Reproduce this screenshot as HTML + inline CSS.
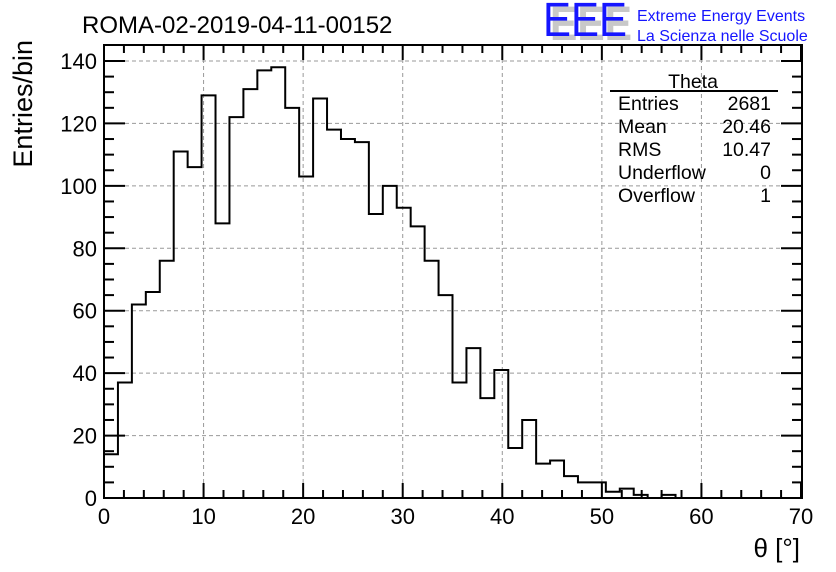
<!DOCTYPE html>
<html><head><meta charset="utf-8"><style>
body{margin:0;background:#fff;}
svg{display:block;font-family:"Liberation Sans",Arial,sans-serif;}
</style></head><body>
<svg id="chart" width="836" height="572" viewBox="0 0 836 572" xmlns="http://www.w3.org/2000/svg">
<rect x="0" y="0" width="836" height="572" fill="#fff"/>
<g id="grid"></g>
<g id="ticks"></g>
<path id="hist" fill="none" stroke="#000" stroke-width="2"/>
<rect x="104" y="45" width="698" height="453" fill="none" stroke="#000" stroke-width="2"/>
<g id="xlabels" font-size="22" text-anchor="middle"></g>
<g id="ylabels" font-size="22" text-anchor="end"></g>
<text x="82" y="33" font-size="24">ROMA-02-2019-04-11-00152</text>
<text x="32" y="40" font-size="27" transform="rotate(-90 32 40)" text-anchor="end">Entries/bin</text>
<text x="800" y="557" font-size="26" text-anchor="end">θ [°]</text>
<g>
<text x="550" y="40" font-size="48" fill="#c8c8c8" font-weight="bold" textLength="82" lengthAdjust="spacingAndGlyphs">EEE</text>
<text x="543" y="36" font-size="48" fill="#1515ff" textLength="84" lengthAdjust="spacingAndGlyphs">EEE</text>
<text x="637" y="21" font-size="16" fill="#1515ff">Extreme Energy Events</text>
<text x="637" y="41" font-size="16" fill="#1515ff">La Scienza nelle Scuole</text>
</g>
<g font-size="19.5">
<text x="693" y="88" text-anchor="middle">Theta</text>
<line x1="610" y1="91" x2="778" y2="91" stroke="#000" stroke-width="2"/>
<text x="618" y="110">Entries</text><text x="771" y="110" text-anchor="end">2681</text>
<text x="618" y="133">Mean</text><text x="771" y="133" text-anchor="end">20.46</text>
<text x="618" y="156">RMS</text><text x="771" y="156" text-anchor="end">10.47</text>
<text x="618" y="179">Underflow</text><text x="771" y="179" text-anchor="end">0</text>
<text x="618" y="202">Overflow</text><text x="771" y="202" text-anchor="end">1</text>
</g>
</svg>
<script>
const binEdgesMin = 0;
const binWidth = 1.4;
const counts = [14,37,62,66,76,111,106,129,88,122,131,137,138,125,103,128,118,115,114,91,100,93,87,76,65,37,48,32,41,16,25,11,12,7,5,5,2,3,1,0,1,0,0,0,0,0,0,0,0,0];
const xTicks = [0,10,20,30,40,50,60,70];
const yTicks = [0,20,40,60,80,100,120,140];

const X0=104,X1=801,Y0=498,Y1=61;
const xs = v => X0 + (v-0)/70*(X1-X0);
const ys = v => Y0 - v/140*(Y0-Y1);
const NS="http://www.w3.org/2000/svg";
function mk(tag, attrs, parent){const e=document.createElementNS(NS,tag);for(const k in attrs)e.setAttribute(k,attrs[k]);parent.appendChild(e);return e;}
const grid=document.getElementById('grid'), ticks=document.getElementById('ticks');
xTicks.forEach(t=>{
  if(t>0&&t<70){const l=mk('line',{x1:xs(t),x2:xs(t),y1:45,y2:498,stroke:'#999','stroke-dasharray':'4,3','stroke-width':1},grid);
  
  }
  const tx=mk('text',{x:xs(t),y:524},document.getElementById('xlabels'));tx.textContent=t;
  
  
});
yTicks.forEach(t=>{
  if(t>0){const l=mk('line',{x1:104,x2:802,y1:ys(t),y2:ys(t),stroke:'#999','stroke-dasharray':'4,3','stroke-width':1},grid);
  
  }
  const tx=mk('text',{x:97,y:ys(t)+8},document.getElementById('ylabels'));tx.textContent=t;
  
  
});
for(let v=0;v<=70;v+=2){const maj=v%10===0;const L=maj?15:8;
  mk('line',{x1:xs(v),x2:xs(v),y1:498,y2:498-L,stroke:'#000','stroke-width':2},ticks);
  mk('line',{x1:xs(v),x2:xs(v),y1:45,y2:45+L,stroke:'#000','stroke-width':2},ticks);}
for(let v=0;v<=140;v+=5){const maj=v%20===0;const L=maj?21:10;
  mk('line',{x1:104,x2:104+L,y1:ys(v),y2:ys(v),stroke:'#000','stroke-width':2},ticks);
  mk('line',{x1:802,x2:802-L,y1:ys(v),y2:ys(v),stroke:'#000','stroke-width':2},ticks);}
let d='M'+xs(binEdgesMin)+','+ys(0);
counts.forEach((c,i)=>{const a=xs(binEdgesMin+i*binWidth),b=xs(binEdgesMin+(i+1)*binWidth);d+=' L'+a+','+ys(c)+' L'+b+','+ys(c);});
d+=' L'+xs(binEdgesMin+counts.length*binWidth)+','+ys(0);
document.getElementById('hist').setAttribute('d',d);
</script>
</body></html>
